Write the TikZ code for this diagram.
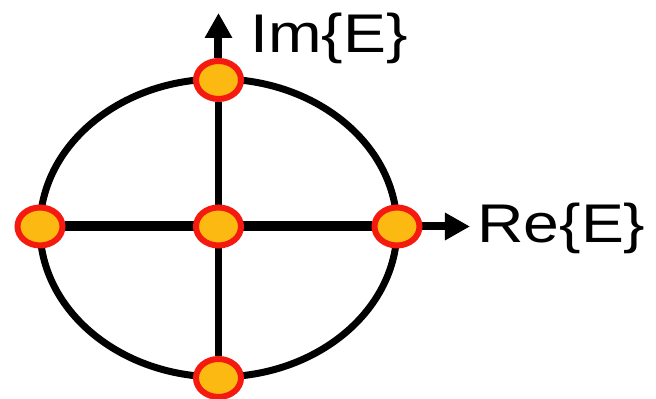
\documentclass[tikz,border=0pt]{standalone}
\usepackage{fontspec}
\setmainfont{Liberation Sans}
\usetikzlibrary{arrows.meta,backgrounds,shapes.geometric}
\definecolor{DotRed}{HTML}{F51A0F}
\definecolor{DotFill}{HTML}{FCB912}
\tikzset{
  phasedot/.style={
    ellipse, draw=DotRed, fill=DotFill, line width=0.12cm,
    minimum width=0.9cm, minimum height=0.76cm, inner sep=0pt
  },
  ringline/.style={black, line width=0.14cm},
  axisline/.style={black, line width=0.14cm},
  axisarrow/.style={-{Triangle[length=0.5cm, width=0.52cm]}, black, line width=0.16cm},
  axislabel/.style={anchor=base west, inner sep=0pt, xscale=1.18,
    font=\fontsize{31}{36}\selectfont},
}
\begin{document}
\begin{tikzpicture}
    \useasboundingbox (0,0) rectangle (13.12,7.98);
    \node[phasedot] (mid) at (4.37,3.45) {};
    \node[phasedot] (top) at (4.37,6.38) {};
    \node[phasedot] (bot) at (4.37,0.42) {};
    \node[phasedot] (lft) at (0.80,3.45) {};
    \node[phasedot] (rgt) at (7.94,3.45) {};
    \coordinate (imtip) at (4.37,7.72);
    \coordinate (retip) at (9.40,3.45);
    \node[axislabel] (imlab) at (5.00,6.92) {Im\{E\}};
    \node[axislabel] (relab) at (9.54,3.12) {Re\{E\}};
    \begin{scope}[on background layer]
      \draw[ringline] (4.37,3.42) ellipse [x radius=3.57cm, y radius=2.98cm];
      \draw[axisline] (bot) -- (top);
      \draw[axisline, line width=0.2cm] (lft) -- (rgt);
      \draw[axisarrow] (top) -- (imtip);
      \draw[axisarrow] (rgt) -- (retip);
    \end{scope}
\end{tikzpicture}
\end{document}
